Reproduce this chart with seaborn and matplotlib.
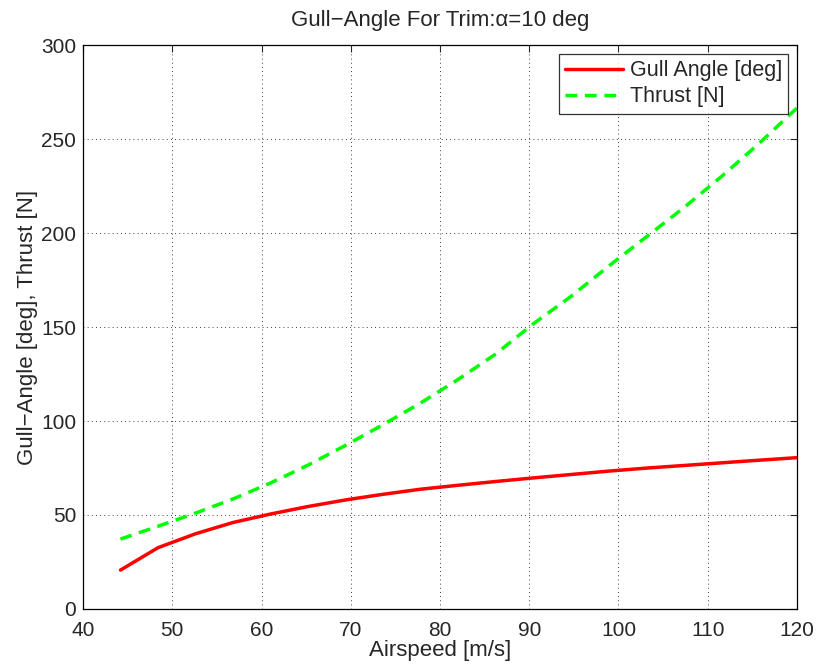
import numpy as np
import pandas as pd
import matplotlib
matplotlib.use("Agg")
import matplotlib.pyplot as plt
import seaborn as sns

# values
airspeed = [44.2, 48.4, 52.6, 56.8, 61.0, 65.2, 69.4, 73.6, 77.8, 82.0,
            86.2, 90.4, 94.6, 98.8, 103.0, 107.2, 111.4, 115.6, 120.0]
gull_angle = [20.7, 32.6, 40.0, 46.0, 50.5, 54.5, 58.0, 61.0, 63.7, 65.8,
              67.8, 69.7, 71.5, 73.3, 74.9, 76.3, 77.7, 79.1, 80.5]
thrust = [37.2, 44.0, 51.0, 58.5, 67.0, 76.5, 87.0, 98.0, 109.5, 122.0,
          135.5, 151.5, 166.0, 182.0, 197.5, 213.0, 229.5, 247.0, 266.5]

df = pd.DataFrame({"airspeed": airspeed, "gull": gull_angle, "thrust": thrust})

sns.set_style("white")
plt.rcParams['font.family'] = ['Liberation Sans', 'DejaVu Sans']

fig = plt.figure(figsize=(8.17, 6.69), dpi=100)
ax = fig.add_axes([0.1016, 0.0897, 0.8739, 0.843])

sns.lineplot(data=df, x="airspeed", y="gull", ax=ax, color="#ff0000",
             linewidth=2.5, label="Gull Angle [deg]")
sns.lineplot(data=df, x="airspeed", y="thrust", ax=ax, color="#00ff00",
             linewidth=2.5, linestyle=(0, (3.4, 2.2)), label="Thrust [N]")

ax.set_xlim(40, 120)
ax.set_ylim(0, 300)
ax.set_xticks(range(40, 121, 10))
ax.set_yticks(range(0, 301, 50))
ax.grid(True, color="black", linestyle=(0, (1, 4)), linewidth=0.6)
ax.tick_params(direction="in", top=True, right=True, labelsize=15, length=5,
               width=0.8)
ax.tick_params(axis="x", pad=9)
ax.tick_params(axis="y", pad=5)
for s in ax.spines.values():
    s.set_color("black")
    s.set_linewidth(0.9)

ax.set_xlabel("Airspeed [m/s]", fontsize=16, labelpad=0)
ax.set_ylabel("Gull\u2212Angle [deg], Thrust [N]", fontsize=16, labelpad=2)
ax.set_title("Gull\u2212Angle For Trim:\u03b1=10 deg", fontsize=16, pad=14)

leg = ax.legend(loc="upper right", fontsize=15.5, frameon=True, fancybox=False,
                borderaxespad=0.4, handlelength=2.7, borderpad=0.3,
                labelspacing=0.25, handletextpad=0.3)
leg.get_frame().set_edgecolor("black")
leg.get_frame().set_linewidth(0.9)

fig.savefig("out.png", dpi=100)
